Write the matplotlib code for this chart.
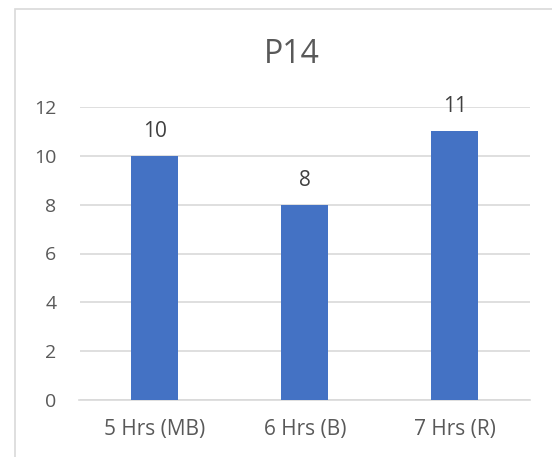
import matplotlib.pyplot as plt
from matplotlib.patches import Rectangle

categories = ['5 Hrs (MB)', '6 Hrs (B)', '7 Hrs (R)']
values = [10, 8, 11]
yticks = [0, 2, 4, 6, 8, 10, 12]

plt.rcParams['font.family'] = ['Open Sans', 'DejaVu Sans']

W, H = 552, 457
fig = plt.figure(figsize=(W / 100, H / 100), dpi=100)

# chart frame (runs off the right and bottom edges)
fig.patches.append(Rectangle((14.8 / W, -0.1), 1.0, 1 - 8.5 / H + 0.1,
                             transform=fig.transFigure, fill=False,
                             edgecolor='#d9d9d9', lw=1.2))

ax = fig.add_axes([79.5 / W, 1 - 400 / H, 450.5 / W, 293 / H])
x = range(len(categories))
ax.bar(x, values, width=0.313, color='#4472c4', zorder=3)
for xi, v in zip(x, values):
    ax.annotate(str(v), (xi, v), xytext=(0, 13.7), textcoords='offset points',
                ha='center', va='baseline', fontsize=15, color='#404040')

ax.set_xlim(-0.5, 2.5)
ax.set_ylim(0, 12)
ax.set_yticks(yticks)
ax.set_xticks(list(x))
ax.set_xticklabels(categories)
ax.grid(axis='y', color='#d9d9d9', lw=1.2, zorder=0)
for s in ['top', 'right', 'left']:
    ax.spines[s].set_visible(False)
ax.spines['bottom'].set_color('#d9d9d9')
ax.spines['bottom'].set_linewidth(1.2)
ax.tick_params(length=0, labelcolor='#595959')
ax.tick_params(axis='y', pad=16.5, labelsize=14)
ax.tick_params(axis='x', pad=14, labelsize=15)

fig.text(292 / W, 1 - 63.3 / H, 'P14', ha='center', va='baseline',
         fontsize=23, color='#595959')

fig.savefig('out.png', dpi=100)
